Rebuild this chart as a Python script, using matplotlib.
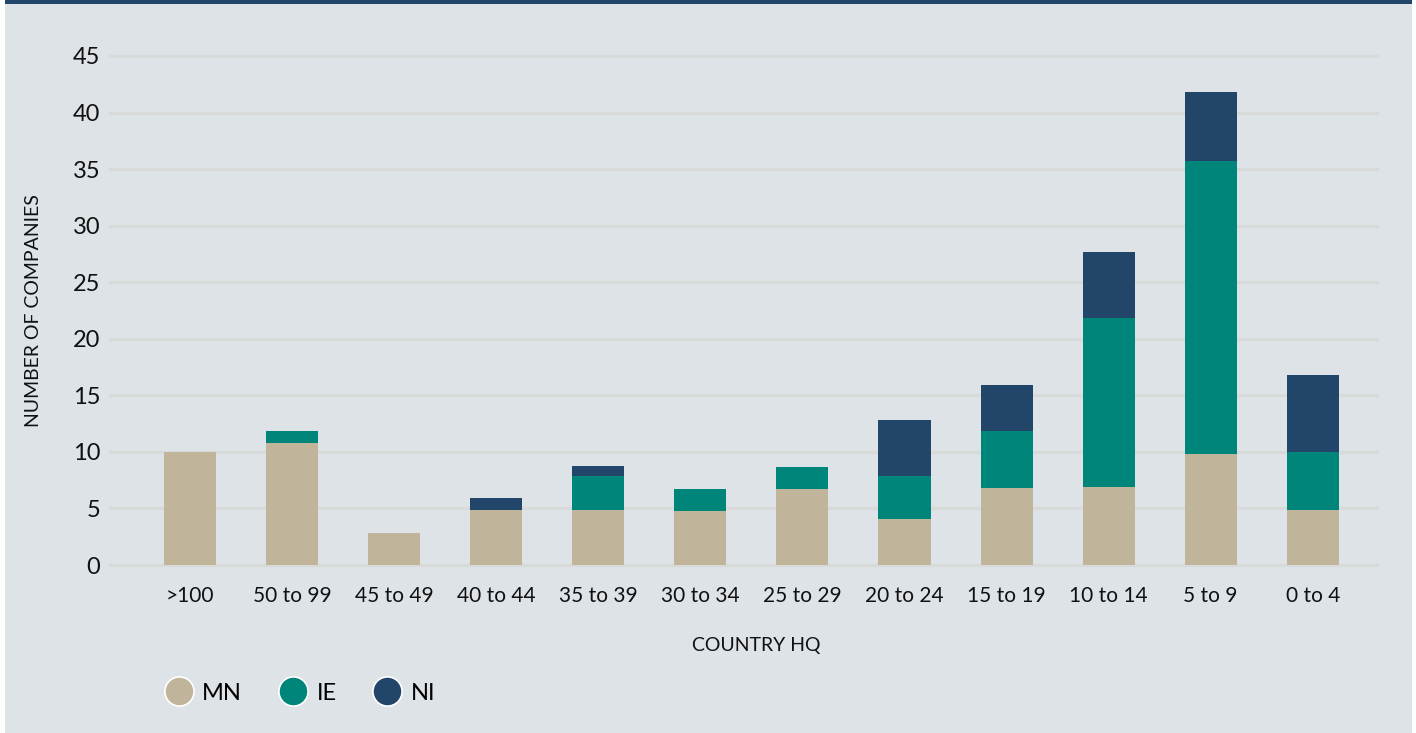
import matplotlib
matplotlib.use("Agg")
import matplotlib.pyplot as plt
from matplotlib.lines import Line2D
from matplotlib.patches import Rectangle
import numpy as np

plt.rcParams['font.family'] = ['Lato', 'DejaVu Sans']

# data
categories = ['>100', '50 to 99', '45 to 49', '40 to 44', '35 to 39', '30 to 34',
              '25 to 29', '20 to 24', '15 to 19', '10 to 14', '5 to 9', '0 to 4']
mn = [10.0, 10.8, 2.8, 4.9, 4.9, 4.8, 6.7, 4.1, 6.8, 6.9, 9.8, 4.9]
ie = [0.0, 1.05, 0.0, 0.0, 2.95, 1.9, 2.0, 3.8, 5.05, 14.9, 25.9, 5.1]
ni = [0.0, 0.0, 0.0, 1.0, 0.9, 0.0, 0.0, 4.95, 4.05, 5.9, 6.1, 6.8]
series_names = ['MN', 'IE', 'NI']
y_ticks = [0, 5, 10, 15, 20, 25, 30, 35, 40, 45]

colors = ['#c0b59b', '#00857a', '#22466a']
bg = '#dee3e7'

W, H = 1416, 733
fig = plt.figure(figsize=(W / 100, H / 100), dpi=100, facecolor='white')

# panel background, top band (behind the axes)
fig.patches.append(Rectangle((5 / W, 0), (1412 - 5) / W, 1, transform=fig.transFigure,
                             facecolor=bg, edgecolor='none', zorder=-2))
fig.patches.append(Rectangle((5 / W, 1 - 4 / H), (1412 - 5) / W, 4 / H, transform=fig.transFigure,
                             facecolor='#22466a', edgecolor='none', zorder=-1))

ax = fig.add_axes([110 / W, 1 - 565 / H, (1377 - 110) / W, (565 - 56) / H])
ax.set_facecolor('none')

x = np.arange(len(categories))
mn_a, ie_a, ni_a = np.array(mn), np.array(ie), np.array(ni)
ax.bar(x, mn_a, width=0.51, color=colors[0], zorder=3)
ax.bar(x, ie_a, width=0.51, bottom=mn_a, color=colors[1], zorder=3)
ax.bar(x, ni_a, width=0.51, bottom=mn_a + ie_a, color=colors[2], zorder=3)

ax.set_xlim(-0.785, 11.63)
ax.set_ylim(0, 45)
ax.set_yticks(y_ticks)
ax.set_xticks(x)
ax.set_xticklabels(categories)
for yv in y_ticks:
    ax.axhline(yv, color='#d8d9d9', linewidth=2.2, zorder=1, clip_on=False)
for s in ax.spines.values():
    s.set_visible(False)
ax.tick_params(axis='both', length=0, colors='#111111')
ax.tick_params(axis='y', labelsize=17, pad=7)
ax.tick_params(axis='x', labelsize=15, pad=15)

ax.set_ylabel('NUMBER OF COMPANIES', fontsize=14, color='#111111')
ax.yaxis.set_label_coords((42 - 110) / (1377 - 110), 0.5)

fig.text(756 / W, 1 - 645 / H, 'COUNTRY HQ', fontsize=14, color='#111111',
         ha='center', va='center')

handles = [Line2D([], [], linestyle='', marker='o', markersize=21, markerfacecolor=c,
                  markeredgecolor='white', markeredgewidth=1.2) for c in colors]
fig.legend(handles, series_names, loc='center left', bbox_to_anchor=(162 / W, 1 - 693 / H),
           ncol=3, frameon=False, fontsize=17, handlelength=1.4, handletextpad=0.3,
           columnspacing=1.45, borderpad=0, borderaxespad=0)

fig.savefig('out.png', dpi=100, facecolor='white')
